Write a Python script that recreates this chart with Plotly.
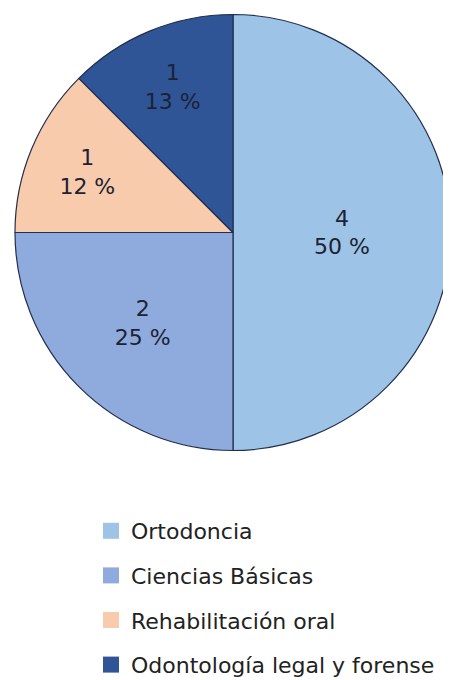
import plotly.graph_objects as go

categories = ["Ortodoncia", "Ciencias Básicas", "Rehabilitación oral", "Odontología legal y forense"]
values = [4, 2, 1, 1]
pct_labels = ["50 %", "25 %", "12 %", "13 %"]
colors = ["#9DC3E6", "#8FAADC", "#F8CBAD", "#2F5597"]

# the page has an 8px body margin, so the figure is 8px smaller than the window
W, H = 443, 672
text = [f"{v}<br>{p}" for v, p in zip(values, pct_labels)]

fig = go.Figure()
fig.add_trace(go.Pie(
    labels=categories, values=values, text=text, textinfo="text",
    sort=False, direction="clockwise", rotation=0,
    marker=dict(colors=colors, line=dict(color="#22304F", width=1.2)),
    textposition="inside", insidetextorientation="horizontal",
    textfont=dict(family="DejaVu Sans", size=22, color="#1c2233"),
    domain=dict(x=[7 / W, 1.0], y=[1 - 446.75 / H, 1 - 2.25 / H]),
    showlegend=False, hoverinfo="label+value+percent",
))
for c, col in zip(categories, colors):
    fig.add_trace(go.Scatter(
        x=[None], y=[None], mode="markers", name=c, legendgroup=c,
        marker=dict(symbol="square", size=18, color=col, line=dict(width=0)),
    ))

fig.update_layout(
    width=W, height=H, margin=dict(l=0, r=0, t=0, b=0, autoexpand=False),
    paper_bgcolor="white", plot_bgcolor="white",
    xaxis=dict(visible=False), yaxis=dict(visible=False),
    legend=dict(x=83 / W, y=1 - 502 / H, xanchor="left", yanchor="top",
                traceorder="grouped", tracegroupgap=13, itemwidth=30,
                font=dict(family="DejaVu Sans", size=22, color="#222222")),
)
fig.write_html("out.html")
